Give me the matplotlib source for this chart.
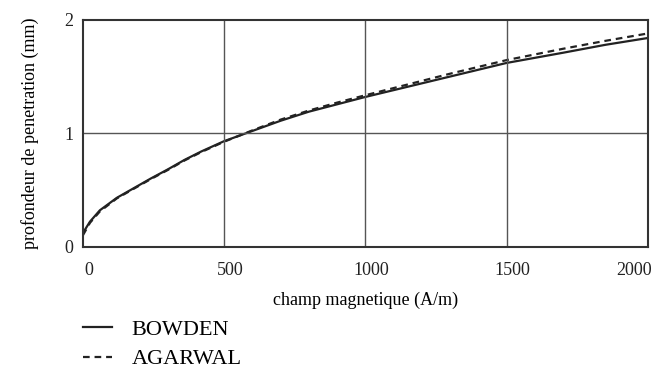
import matplotlib.pyplot as plt
import matplotlib.transforms as mtransforms

# valeurs
champ = [0, 25, 60, 120, 180, 240, 300, 360, 420, 500, 600, 700, 800,
         900, 1000, 1150, 1300, 1500, 1700, 1850, 2000]
bowden = [0.12, 0.22, 0.32, 0.43, 0.515, 0.60, 0.68, 0.765, 0.84, 0.93,
          1.02, 1.11, 1.19, 1.255, 1.32, 1.41, 1.50, 1.62, 1.71, 1.78, 1.84]
agarwal = [0.10, 0.21, 0.31, 0.425, 0.51, 0.595, 0.675, 0.76, 0.835, 0.925,
           1.025, 1.12, 1.20, 1.27, 1.335, 1.43, 1.525, 1.645, 1.745, 1.815, 1.88]

xticks = [0, 500, 1000, 1500, 2000]
yticks = [0, 1, 2]

plt.rcParams['font.family'] = ['Liberation Serif', 'DejaVu Serif']

fig = plt.figure(figsize=(6.53, 3.68), dpi=100)
ax = fig.add_axes([0.127, 0.33, 0.865, 0.616])

l1, = ax.plot(champ, bowden, color='#222222', lw=1.6, label='BOWDEN')
l2, = ax.plot(champ, agarwal, color='#222222', lw=1.6, dashes=(3, 2.2), label='AGARWAL')

ax.set_xlim(0, 2000)
ax.set_ylim(0, 2)
ax.set_xticks(xticks)
ax.set_yticks(yticks)
ax.tick_params(length=0, labelsize=13, colors='#222222')
ax.tick_params(axis='x', pad=11)
ax.tick_params(axis='y', pad=7)

for v in [500, 1000, 1500]:
    ax.axvline(v, color='#555555', lw=1.0)
ax.axhline(1, color='#555555', lw=1.0)

for s in ax.spines.values():
    s.set_linewidth(1.5)
    s.set_color('#333333')

# decaler les etiquettes de l'axe x comme sur l'original
labels = ax.get_xticklabels()
for i, lab in enumerate(labels):
    if i == len(labels) - 1:
        lab.set_horizontalalignment('right')
        off = mtransforms.ScaledTranslation(4 / 100, 0, fig.dpi_scale_trans)
    else:
        off = mtransforms.ScaledTranslation(6 / 100, 0, fig.dpi_scale_trans)
    lab.set_transform(lab.get_transform() + off)

ax.set_xlabel('champ magnetique (A/m)', fontsize=13, labelpad=9)
ax.set_ylabel('profondeur de penetration (mm)', fontsize=13, labelpad=18)

fig.legend(handles=[l1, l2], loc='upper left', bbox_to_anchor=(0.127, 0.132),
           frameon=False, fontsize=16, handlelength=1.3, handletextpad=0.9,
           labelspacing=0.4, borderpad=0, borderaxespad=0)

fig.savefig('out.png', dpi=100)
